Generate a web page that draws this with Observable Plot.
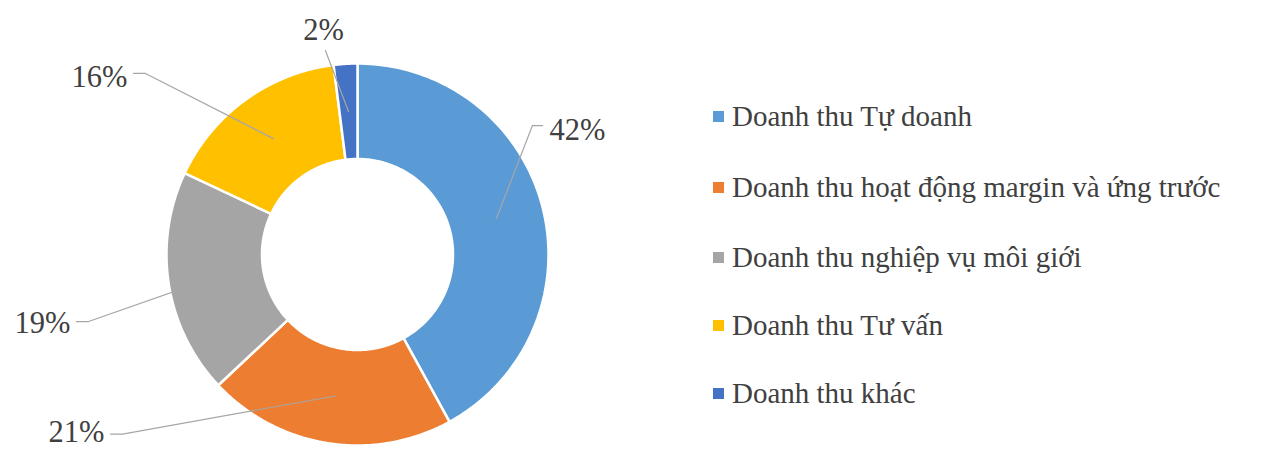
<!DOCTYPE html>
<html><head><meta charset="utf-8">
<script src="https://cdn.jsdelivr.net/npm/d3@7"></script>
<script src="https://cdn.jsdelivr.net/npm/@observablehq/plot@0.6"></script>
<style>
body{margin:0;background:#fff;}
#wrap{position:relative;width:1285px;height:450px;font-family:"Liberation Serif","Times New Roman",serif;}
#legend{position:absolute;left:713px;top:0;}
.item{position:absolute;left:0;height:32px;white-space:nowrap;display:flex;align-items:center;font-size:29px;color:#404040;}
.sw{width:11px;height:11px;margin-right:8px;flex:none;}
</style></head>
<body><div id="wrap"><div id="legend"></div></div>
<script>
const categories = ["Doanh thu Tự doanh","Doanh thu hoạt động margin và ứng trước","Doanh thu nghiệp vụ môi giới","Doanh thu Tư vấn","Doanh thu khác"];
const shares = [42, 21, 19, 16, 2];
const labels = ["42%","21%","19%","16%","2%"];
const colors = ["#5B9BD5","#ED7D31","#A5A5A5","#FFC000","#4472C4"];

// label layout (elbow / end of leader line and text anchor), in units of outer radius
const labelLayout = [
  {ex: 0.916, ey: 0.675, tx: 0.969, ty: 0.675, lx: 1.005, ly: 0.650, anchor: "start"},
  {ex: -1.230, ey: -0.940, tx: -1.293, ty: -0.940, lx: -1.325, ly: -0.928, anchor: "end"},
  {ex: -1.408, ey: -0.351, tx: -1.471, ty: -0.351, lx: -1.503, ly: -0.361, anchor: "end"},
  {ex: -1.110, ey: 0.948, tx: -1.173, ty: 0.948, lx: -1.204, ly: 0.927, anchor: "end"},
  {ex: -0.168, ey: 1.068, tx: -0.168, ty: 1.068, lx: -0.178, ly: 1.175, anchor: "middle"}
];

const cx = 357, cy = 254, R = 191, inner = 0.5;
const pie = d3.pie().sort(null).value(d => d)(shares);
const pt = (a, r) => [r * Math.sin(a), r * Math.cos(a)];

const slicePts = [];
pie.forEach((p, i) => {
  const n = 120;
  for (let k = 0; k <= n; k++) { const a = p.startAngle + (p.endAngle - p.startAngle) * k / n; const [x, y] = pt(a, 1); slicePts.push({i, x, y}); }
  for (let k = n; k >= 0; k--) { const a = p.startAngle + (p.endAngle - p.startAngle) * k / n; const [x, y] = pt(a, inner); slicePts.push({i, x, y}); }
});

const leaderPts = [];
const labelData = [];
pie.forEach((p, i) => {
  const mid = (p.startAngle + p.endAngle) / 2;
  const [sx, sy] = pt(mid, 0.75);
  const L = labelLayout[i];
  leaderPts.push({i, x: sx, y: sy}, {i, x: L.ex, y: L.ey}, {i, x: L.tx, y: L.ty});
  labelData.push({i, x: L.lx, y: L.ly, text: labels[i], anchor: L.anchor});
});

const textOpts = {x: "x", y: "y", text: "text", fontSize: 30.5, fontFamily: "Liberation Serif", fill: "#404040"};
const chart = Plot.plot({
  width: 1285, height: 450,
  margin: 0,
  x: {type: "linear", domain: [-1, 1], range: [cx - R, cx + R], axis: null},
  y: {type: "linear", domain: [-1, 1], range: [cy + R, cy - R], axis: null},
  style: {background: "#fff"},
  marks: [
    Plot.line(slicePts, {x: "x", y: "y", z: "i", fill: d => colors[d.i], stroke: "#fff", strokeWidth: 2.5, curve: "linear-closed"}),
    Plot.line(leaderPts, {x: "x", y: "y", z: "i", stroke: "#A6A6A6", strokeWidth: 1.2, curve: "linear"}),
    Plot.text(labelData.filter(d => d.anchor === "start"), {...textOpts, textAnchor: "start"}),
    Plot.text(labelData.filter(d => d.anchor === "end"), {...textOpts, textAnchor: "end"}),
    Plot.text(labelData.filter(d => d.anchor === "middle"), {...textOpts, textAnchor: "middle"})
  ]
});
chart.style.position = "absolute";
chart.style.left = "0"; chart.style.top = "0";
document.getElementById("wrap").prepend(chart);

const legendY = [116, 187, 257, 325, 393];
const leg = document.getElementById("legend");
categories.forEach((c, i) => {
  const it = document.createElement("div");
  it.className = "item";
  it.style.top = (legendY[i] - 16) + "px";
  const sw = document.createElement("span"); sw.className = "sw"; sw.style.background = colors[i];
  const tx = document.createElement("span"); tx.textContent = c;
  it.append(sw, tx); leg.append(it);
});
</script></body></html>
